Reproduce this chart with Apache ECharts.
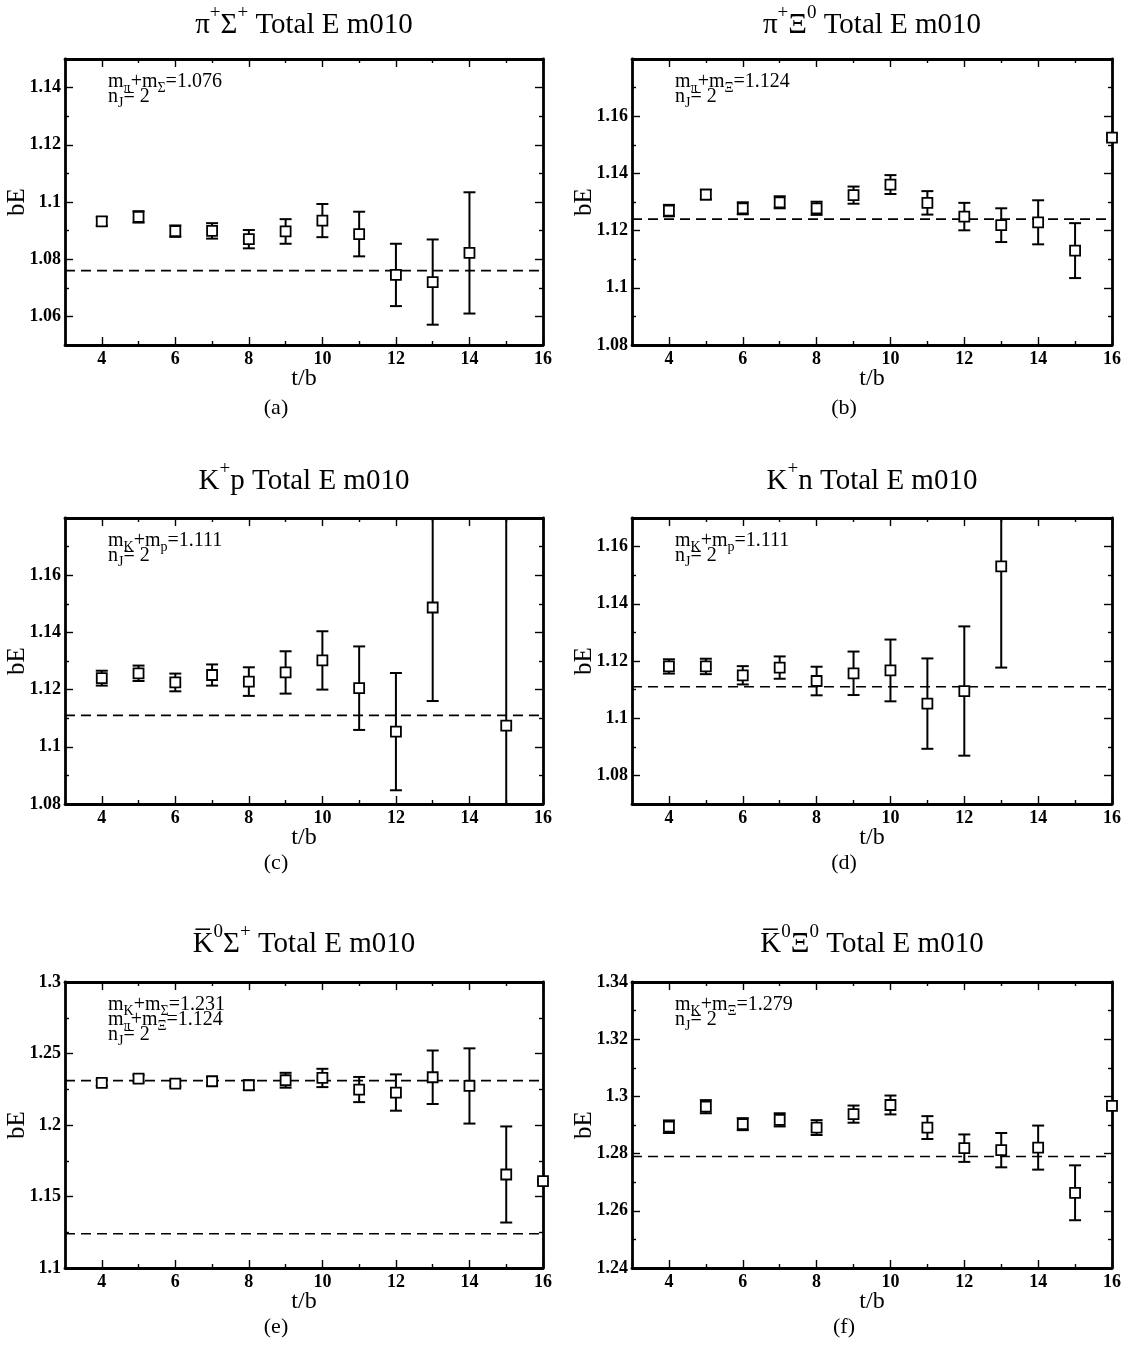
<!DOCTYPE html>
<html><head><meta charset="utf-8">
<script src="https://cdn.jsdelivr.net/npm/echarts@6/dist/echarts.min.js"></script>
<style>html,body{margin:0;padding:0;background:#fff}#c{width:1133px;height:1348px}</style>
</head><body><div id="c"></div>
<script>
// ---------- data ----------
const tRange = [3, 16];
const tTicks = [4, 6, 8, 10, 12, 14, 16];
const tMinor = [5, 7, 9, 11, 13, 15];

// (a) pi+ Sigma+
const tA = [4, 5, 6, 7, 8, 9, 10, 11, 12, 13, 14];
const bEA = [1.0932, 1.0948, 1.0898, 1.0899, 1.0870, 1.0897, 1.0935, 1.0888, 1.0745, 1.0720, 1.0822];
const errA = [0.0015, 0.0020, 0.0020, 0.0027, 0.0032, 0.0043, 0.0058, 0.0078, 0.0109, 0.0149, 0.0212];
const thrA = [1.076];
const yRangeA = [1.05, 1.15];
const yTicksA = [1.06, 1.08, 1.10, 1.12, 1.14];
const yMinorA = [1.07, 1.09, 1.11, 1.13];

// (b) pi+ Xi0
const tB = [4, 5, 6, 7, 8, 9, 10, 11, 12, 13, 14, 15, 16];
const bEB = [1.1270, 1.1326, 1.1278, 1.1299, 1.1278, 1.1324, 1.1361, 1.1297, 1.1249, 1.1219, 1.1229, 1.1130, 1.1525];
const errB = [0.0020, 0.0017, 0.0021, 0.0021, 0.0023, 0.0030, 0.0033, 0.0041, 0.0048, 0.0059, 0.0077, 0.0096, 0.0008];
const thrB = [1.124];
const yRangeB = [1.08, 1.18];
const yTicksB = [1.08, 1.10, 1.12, 1.14, 1.16];
const yMinorB = [1.09, 1.11, 1.13, 1.15, 1.17];

// (c) K+ p
const tC = [4, 5, 6, 7, 8, 9, 10, 11, 12, 13, 15];
const bEC = [1.1240, 1.1257, 1.1225, 1.1251, 1.1228, 1.1260, 1.1302, 1.1205, 1.1053, 1.1487, 1.1074];
const errC = [0.0026, 0.0027, 0.0031, 0.0037, 0.0050, 0.0074, 0.0102, 0.0146, 0.0205, 0.0327, 0.0800];
const thrC = [1.111];
const yRangeC = [1.08, 1.18];
const yTicksC = [1.08, 1.10, 1.12, 1.14, 1.16];
const yMinorC = [1.09, 1.11, 1.13, 1.15, 1.17];

// (d) K+ n
const tD = [4, 5, 6, 7, 8, 9, 10, 11, 12, 13];
const bED = [1.1181, 1.1181, 1.1150, 1.1177, 1.1130, 1.1157, 1.1167, 1.1051, 1.1095, 1.1531];
const errD = [0.0025, 0.0027, 0.0032, 0.0039, 0.0050, 0.0076, 0.0108, 0.0158, 0.0226, 0.0354];
const thrD = [1.111];
const yRangeD = [1.07, 1.17];
const yTicksD = [1.08, 1.10, 1.12, 1.14, 1.16];
const yMinorD = [1.09, 1.11, 1.13, 1.15];

// (e) K0bar Sigma+
const tE = [4, 5, 6, 7, 8, 9, 10, 11, 12, 13, 14, 15, 16];
const bEE = [1.2294, 1.2325, 1.2290, 1.2306, 1.2278, 1.2313, 1.2329, 1.2248, 1.2227, 1.2334, 1.2273, 1.1654, 1.1607];
const errE = [0.0020, 0.0023, 0.0020, 0.0030, 0.0033, 0.0052, 0.0064, 0.0088, 0.0127, 0.0187, 0.0263, 0.0336, 0.0010];
const thrE = [1.231, 1.124];
const yRangeE = [1.10, 1.30];
const yTicksE = [1.10, 1.15, 1.20, 1.25, 1.30];
const yMinorE = [1.125, 1.175, 1.225, 1.275];

// (f) K0bar Xi0
const tF = [4, 5, 6, 7, 8, 9, 10, 11, 12, 13, 14, 15, 16];
const bEF = [1.2894, 1.2964, 1.2903, 1.2918, 1.2891, 1.2938, 1.2970, 1.2891, 1.2819, 1.2812, 1.2821, 1.2663, 1.2967];
const errF = [0.0022, 0.0023, 0.0021, 0.0023, 0.0026, 0.0030, 0.0033, 0.0040, 0.0048, 0.0060, 0.0077, 0.0096, 0.0008];
const thrF = [1.279];
const yRangeF = [1.24, 1.34];
const yTicksF = [1.24, 1.26, 1.28, 1.30, 1.32, 1.34];
const yMinorF = [1.25, 1.27, 1.29, 1.31, 1.33];

const titles = [
  '{m|π}{p|+}{m|Σ}{p|+}{m| Total E m010}',
  '{m|π}{p|+}{m|Ξ}{p|0}{m| Total E m010}',
  '{m|K}{p|+}{m|p Total E m010}',
  '{m|K}{p|+}{m|n Total E m010}',
  '{m|K\u0305}{p|0}{m|Σ}{p|+}{m| Total E m010}',
  '{m|K\u0305}{p|0}{m|Ξ}{p|0}{m| Total E m010}'
];
const notes = [
  ['{m|m}{s|π}{m|+m}{s|Σ}{m|=1.076}', '{m|n}{s|J}{m|= 2}'],
  ['{m|m}{s|π}{m|+m}{s|Ξ}{m|=1.124}', '{m|n}{s|J}{m|= 2}'],
  ['{m|m}{s|K}{m|+m}{s|p}{m|=1.111}', '{m|n}{s|J}{m|= 2}'],
  ['{m|m}{s|K}{m|+m}{s|p}{m|=1.111}', '{m|n}{s|J}{m|= 2}'],
  ['{m|m}{s|K}{m|+m}{s|Σ}{m|=1.231}', '{m|m}{s|π}{m|+m}{s|Ξ}{m|=1.124}', '{m|n}{s|J}{m|= 2}'],
  ['{m|m}{s|K}{m|+m}{s|Ξ}{m|=1.279}', '{m|n}{s|J}{m|= 2}']
];
const captions = ['(a)', '(b)', '(c)', '(d)', '(e)', '(f)'];
const xName = 't/b';
const yName = 'bE';

const panels = [
  {t: tA, v: bEA, e: errA, thr: thrA, yr: yRangeA, yt: yTicksA, ym: yMinorA},
  {t: tB, v: bEB, e: errB, thr: thrB, yr: yRangeB, yt: yTicksB, ym: yMinorB},
  {t: tC, v: bEC, e: errC, thr: thrC, yr: yRangeC, yt: yTicksC, ym: yMinorC},
  {t: tD, v: bED, e: errD, thr: thrD, yr: yRangeD, yt: yTicksD, ym: yMinorD},
  {t: tE, v: bEE, e: errE, thr: thrE, yr: yRangeE, yt: yTicksE, ym: yMinorE},
  {t: tF, v: bEF, e: errF, thr: thrF, yr: yRangeF, yt: yTicksF, ym: yMinorF}
];

// ---------- layout / style ----------
const gridBoxes = [
  [65, 59, 478, 286], [632, 59, 480, 286],
  [65, 518, 478, 286], [632, 518, 480, 286],
  [65, 982, 478, 286], [632, 982, 480, 286]
];
const titleY = [25, 481, 944];
const captionY = [408, 863, 1327];
const SERIF = '"Liberation Serif", "Times New Roman", serif';
const frameLine = {color: '#000', width: 2.8};
const tickLine = {color: '#000', width: 1.4};
const titleRich = {
  m: {fontSize: 29, fontFamily: SERIF, fill: '#000', height: 29, lineHeight: 29, verticalAlign: 'bottom'},
  p: {fontSize: 19, fontFamily: SERIF, fill: '#000', height: 6, verticalAlign: 'top'}
};
const noteRich = {
  m: {fontSize: 20, fontFamily: SERIF, fill: '#000', height: 20, lineHeight: 20, verticalAlign: 'top'},
  s: {fontSize: 14, fontFamily: SERIF, fill: '#000', height: 8, verticalAlign: 'bottom'}
};
const fmt = v => String(Number(v.toFixed(3)));

function errorBar(params, api) {
  const x = api.value(0), y = api.value(1), e = api.value(2);
  const top = api.coord([x, y + e]);
  const bot = api.coord([x, y - e]);
  const cap = 6;
  const st = {stroke: '#000', lineWidth: 2};
  return {
    type: 'group',
    children: [
      {type: 'line', shape: {x1: top[0], y1: top[1], x2: bot[0], y2: bot[1]}, style: st},
      {type: 'line', shape: {x1: top[0] - cap, y1: top[1], x2: top[0] + cap, y2: top[1]}, style: st},
      {type: 'line', shape: {x1: bot[0] - cap, y1: bot[1], x2: bot[0] + cap, y2: bot[1]}, style: st}
    ]
  };
}

const grids = [], xAxes = [], yAxes = [], series = [], graphics = [];
panels.forEach((p, i) => {
  const [L, T, W, H] = gridBoxes[i];
  const row = Math.floor(i / 2);
  grids.push({left: L, top: T, width: W, height: H, containLabel: false, outerBoundsMode: 'none'});

  const xBase = {type: 'value', gridIndex: i, min: tRange[0], max: tRange[1], splitLine: {show: false},
    axisLabel: {show: false}, axisLine: {show: false, onZero: false}, axisTick: {show: false}};
  const xi = xAxes.length;
  xAxes.push(Object.assign({}, xBase, {
    position: 'bottom',
    axisLine: {show: true, onZero: false, lineStyle: frameLine},
    axisTick: {show: true, inside: true, length: 8, customValues: tTicks, lineStyle: tickLine},
    axisLabel: {show: true, customValues: tTicks, margin: 5, color: '#000', fontFamily: SERIF, fontWeight: 'bold', fontSize: 18},
    name: xName, nameLocation: 'middle', nameGap: 22, nameMoveOverlap: false,
    nameTextStyle: {color: '#000', fontFamily: SERIF, fontSize: 24}
  }));
  xAxes.push(Object.assign({}, xBase, {position: 'bottom',
    axisTick: {show: true, inside: true, length: 4, customValues: tMinor, lineStyle: tickLine}}));
  xAxes.push(Object.assign({}, xBase, {position: 'top',
    axisLine: {show: true, onZero: false, lineStyle: frameLine},
    axisTick: {show: true, inside: true, length: 8, customValues: tTicks, lineStyle: tickLine}}));
  xAxes.push(Object.assign({}, xBase, {position: 'top',
    axisTick: {show: true, inside: true, length: 4, customValues: tMinor, lineStyle: tickLine}}));

  const yBase = {type: 'value', gridIndex: i, min: p.yr[0], max: p.yr[1], splitLine: {show: false},
    axisLabel: {show: false}, axisLine: {show: false, onZero: false}, axisTick: {show: false}};
  const yi = yAxes.length;
  yAxes.push(Object.assign({}, yBase, {
    position: 'left',
    axisLine: {show: true, onZero: false, lineStyle: frameLine},
    axisTick: {show: true, inside: true, length: 8, customValues: p.yt, lineStyle: tickLine},
    axisLabel: {show: true, customValues: p.yt, formatter: fmt, margin: 4, color: '#000', fontFamily: SERIF, fontWeight: 'bold', fontSize: 18},
    name: yName, nameLocation: 'middle', nameGap: 35, nameRotate: 90, nameMoveOverlap: false,
    nameTextStyle: {color: '#000', fontFamily: SERIF, fontSize: 25}
  }));
  yAxes.push(Object.assign({}, yBase, {position: 'left',
    axisTick: {show: true, inside: true, length: 4, customValues: p.ym, lineStyle: tickLine}}));
  yAxes.push(Object.assign({}, yBase, {position: 'right',
    axisLine: {show: true, onZero: false, lineStyle: frameLine},
    axisTick: {show: true, inside: true, length: 8, customValues: p.yt, lineStyle: tickLine}}));
  yAxes.push(Object.assign({}, yBase, {position: 'right',
    axisTick: {show: true, inside: true, length: 4, customValues: p.ym, lineStyle: tickLine}}));

  // reference lines (mass thresholds)
  p.thr.forEach(v => {
    series.push({type: 'line', xAxisIndex: xi, yAxisIndex: yi, data: [[tRange[0], v], [tRange[1], v]],
      symbol: 'none', silent: true, z: 3, clip: true,
      lineStyle: {color: '#000', width: 1.6, type: [10, 6]}});
  });
  // error bars
  series.push({type: 'custom', xAxisIndex: xi, yAxisIndex: yi, clip: true, z: 4, silent: true,
    renderItem: errorBar, data: p.t.map((t, k) => [t, p.v[k], p.e[k]])});
  // points
  series.push({type: 'scatter', xAxisIndex: xi, yAxisIndex: yi, clip: false, z: 5, silent: true,
    symbol: 'rect', symbolSize: 10,
    itemStyle: {color: '#fff', borderColor: '#000', borderWidth: 1.8, opacity: 1},
    data: p.t.map((t, k) => [t, p.v[k]])});

  graphics.push({type: 'text', x: L + W / 2, y: titleY[row], silent: true,
    style: {text: titles[i], rich: titleRich, align: 'center', verticalAlign: 'middle', fill: '#000'}});
  graphics.push({type: 'text', x: L + W / 2 - 28, y: captionY[row], silent: true,
    style: {text: captions[i], align: 'center', verticalAlign: 'middle', fill: '#000', fontSize: 22, fontFamily: SERIF}});
  notes[i].forEach((n, k) => {
    graphics.push({type: 'text', x: L + 43, y: T + 13 + k * 15, silent: true,
      style: {text: n, rich: noteRich, align: 'left', verticalAlign: 'top', fill: '#000'}});
  });
});

const chart = echarts.init(document.getElementById('c'), null, {renderer: 'canvas'});
chart.setOption({
  animation: false,
  backgroundColor: '#fff',
  grid: grids,
  xAxis: xAxes,
  yAxis: yAxes,
  series: series,
  graphic: graphics
});
</script></body></html>
